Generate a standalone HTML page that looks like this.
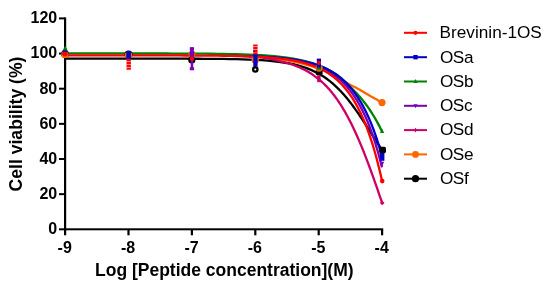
<!DOCTYPE html><html><head><meta charset="utf-8"><title>Cell viability</title><style>
html,body{margin:0;padding:0;background:#fff}
body{width:550px;height:287px;position:relative;overflow:hidden;font-family:"Liberation Sans",Arial,sans-serif;color:#000}
.t{position:absolute;white-space:nowrap;line-height:1}
.yt{font-weight:bold;font-size:16px;text-align:right;width:50px;left:7.2px}
.xt{font-weight:bold;font-size:16px;text-align:center;width:40px}
.lg{font-size:17.2px;left:439.1px}
.xl{font-weight:bold;font-size:17.5px;left:95px;top:262px}
.yl{font-weight:bold;font-size:17.6px;left:16.5px;top:123.5px;transform:translate(-50%,-50%) rotate(-90deg)}
</style></head><body>
<svg width="550" height="287" viewBox="0 0 550 287" style="position:absolute;left:0;top:0">
<g fill="#000">
<rect x="64" y="17.4" width="2.2" height="212.9"/>
<rect x="64" y="228.3" width="319.2" height="2"/>
<rect x="59" y="228.30" width="6" height="2"/>
<rect x="59" y="193.15" width="6" height="2"/>
<rect x="59" y="158.00" width="6" height="2"/>
<rect x="59" y="122.85" width="6" height="2"/>
<rect x="59" y="87.70" width="6" height="2"/>
<rect x="59" y="52.55" width="6" height="2"/>
<rect x="59" y="17.40" width="6" height="2"/>
<rect x="64.00" y="229.3" width="2.2" height="6"/>
<rect x="127.40" y="229.3" width="2.2" height="6"/>
<rect x="190.80" y="229.3" width="2.2" height="6"/>
<rect x="254.20" y="229.3" width="2.2" height="6"/>
<rect x="317.60" y="229.3" width="2.2" height="6"/>
<rect x="381.00" y="229.3" width="2.2" height="6"/>
</g>
<g fill="none" stroke-width="2.3" stroke-linejoin="round" stroke-linecap="butt">
<path d="M65.00 58.65 L71.34 58.65 L77.68 58.65 L84.02 58.65 L90.36 58.65 L96.70 58.65 L103.04 58.65 L109.38 58.65 L115.72 58.65 L122.06 58.65 L128.40 58.65 L134.74 58.65 L141.08 58.66 L147.42 58.66 L153.76 58.66 L160.10 58.67 L166.44 58.68 L172.78 58.69 L179.12 58.70 L185.46 58.71 L191.80 58.73 L198.14 58.76 L204.48 58.79 L210.82 58.84 L217.16 58.90 L223.50 58.97 L229.84 59.07 L236.18 59.19 L242.52 59.35 L248.86 59.57 L255.20 59.84 L261.54 60.19 L267.88 60.65 L274.22 61.24 L280.56 62.01 L286.90 62.99 L293.24 64.24 L299.58 65.84 L305.92 67.87 L312.26 70.42 L318.60 73.61 L319.66 74.21 L320.71 74.83 L321.77 75.48 L322.83 76.14 L323.88 76.83 L324.94 77.54 L326.00 78.28 L327.05 79.04 L328.11 79.83 L329.17 80.64 L330.22 81.47 L331.28 82.33 L332.34 83.22 L333.39 84.14 L334.45 85.08 L335.51 86.05 L336.56 87.04 L337.62 88.07 L338.68 89.12 L339.73 90.20 L340.79 91.31 L341.85 92.44 L342.90 93.61 L343.96 94.80 L345.02 96.02 L346.07 97.27 L347.13 98.54 L348.19 99.84 L349.24 101.17 L350.30 102.52 L351.36 103.90 L352.41 105.30 L353.47 106.73 L354.53 108.18 L355.58 109.65 L356.64 111.14 L357.70 112.66 L358.75 114.19 L359.81 115.74 L360.87 117.31 L361.92 118.89 L362.98 120.49 L364.04 122.10 L365.09 123.72 L366.15 125.35 L367.21 127.00 L368.26 128.65 L369.32 130.30 L370.38 131.96 L371.43 133.62 L372.49 135.28 L373.55 136.94 L374.60 138.60 L375.66 140.26 L376.72 141.91 L377.77 143.55 L378.83 145.19 L379.89 146.81 L380.94 148.42 L382.00 150.02" stroke="#000000"/>
<path d="M242.52 56.19 L248.86 56.42 L255.20 56.78 L261.54 57.27 L267.88 57.90 L274.22 58.65 L280.56 59.49 L286.90 60.43 L293.24 61.56 L299.58 62.93 L305.92 64.54 L312.26 66.44 L318.60 68.55 L319.66 68.90 L320.71 69.26 L321.77 69.62 L322.83 69.98 L323.88 70.36 L324.94 70.74 L326.00 71.15 L327.05 71.58 L328.11 72.04 L329.17 72.53 L330.22 73.05 L331.28 73.59 L332.34 74.15 L333.39 74.73 L334.45 75.31 L335.51 75.90 L336.56 76.49 L337.62 77.09 L338.68 77.69 L339.73 78.29 L340.79 78.91 L341.85 79.56 L342.90 80.22 L343.96 80.91 L345.02 81.61 L346.07 82.32 L347.13 83.01 L348.19 83.67 L349.24 84.30 L350.30 84.88 L351.36 85.42 L352.41 85.94 L353.47 86.45 L354.53 86.97 L355.58 87.51 L356.64 88.06 L357.70 88.65 L358.75 89.24 L359.81 89.85 L360.87 90.47 L361.92 91.10 L362.98 91.72 L364.04 92.35 L365.09 92.97 L366.15 93.60 L367.21 94.21 L368.26 94.83 L369.32 95.44 L370.38 96.05 L371.43 96.66 L372.49 97.26 L373.55 97.85 L374.60 98.44 L375.66 99.02 L376.72 99.60 L377.77 100.17 L378.83 100.74 L379.89 101.30 L380.94 101.85 L382.00 102.39" stroke="#ff6600"/>
<path d="M248.86 56.39 L255.20 56.74 L261.54 57.39 L267.88 58.39 L274.22 59.75 L280.56 61.35 L286.90 62.99 L293.24 64.97 L299.58 67.44 L305.92 70.52 L312.26 74.34 L318.60 79.05 L319.66 79.93 L320.71 80.84 L321.77 81.79 L322.83 82.76 L323.88 83.77 L324.94 84.81 L326.00 85.88 L327.05 86.99 L328.11 88.14 L329.17 89.32 L330.22 90.54 L331.28 91.80 L332.34 93.09 L333.39 94.43 L334.45 95.81 L335.51 97.22 L336.56 98.68 L337.62 100.19 L338.68 101.73 L339.73 103.32 L340.79 104.96 L341.85 106.63 L342.90 108.36 L343.96 110.13 L345.02 111.95 L346.07 113.81 L347.13 115.72 L348.19 117.68 L349.24 119.68 L350.30 121.74 L351.36 123.84 L352.41 125.99 L353.47 128.18 L354.53 130.43 L355.58 132.72 L356.64 135.06 L357.70 137.44 L358.75 139.87 L359.81 142.34 L360.87 144.86 L361.92 147.42 L362.98 150.03 L364.04 152.68 L365.09 155.36 L366.15 158.09 L367.21 160.86 L368.26 163.66 L369.32 166.49 L370.38 169.36 L371.43 172.26 L372.49 175.19 L373.55 178.15 L374.60 181.14 L375.66 184.15 L376.72 187.18 L377.77 190.23 L378.83 193.30 L379.89 196.38 L380.94 199.48 L382.00 202.58" stroke="#cc0066"/>
<path d="M286.90 58.94 L293.24 59.85 L299.58 61.01 L305.92 62.46 L312.26 64.29 L318.60 66.59 L319.66 67.03 L320.71 67.48 L321.77 67.96 L322.83 68.45 L323.88 68.96 L324.94 69.49 L326.00 70.04 L327.05 70.61 L328.11 71.21 L329.17 71.83 L330.22 72.47 L331.28 73.14 L332.34 73.83 L333.39 74.55 L334.45 75.30 L335.51 76.08 L336.56 76.89 L337.62 77.73 L338.68 78.61 L339.73 79.51 L340.79 80.46 L341.85 81.44 L342.90 82.46 L343.96 83.52 L345.02 84.62 L346.07 85.76 L347.13 86.95 L348.19 88.18 L349.24 89.47 L350.30 90.80 L351.36 92.18 L352.41 93.62 L353.47 95.12 L354.53 96.67 L355.58 98.29 L356.64 99.96 L357.70 101.71 L358.75 103.52 L359.81 105.40 L360.87 107.36 L361.92 109.39 L362.98 111.50 L364.04 113.70 L365.09 115.98 L366.15 118.35 L367.21 120.81 L368.26 123.37 L369.32 126.03 L370.38 128.80 L371.43 131.67 L372.49 134.65 L373.55 137.75 L374.60 140.97 L375.66 144.32 L376.72 147.80 L377.77 151.42 L378.83 155.17 L379.89 159.08 L380.94 163.13 L382.00 167.35" stroke="#7a00b6"/>
<path d="M65.00 53.46 L71.34 53.46 L77.68 53.46 L84.02 53.47 L90.36 53.47 L96.70 53.47 L103.04 53.47 L109.38 53.47 L115.72 53.47 L122.06 53.47 L128.40 53.48 L134.74 53.48 L141.08 53.49 L147.42 53.49 L153.76 53.50 L160.10 53.51 L166.44 53.52 L172.78 53.54 L179.12 53.56 L185.46 53.58 L191.80 53.61 L198.14 53.65 L204.48 53.70 L210.82 53.76 L217.16 53.83 L223.50 53.93 L229.84 54.05 L236.18 54.20 L242.52 54.38 L248.86 54.61 L255.20 54.90 L261.54 55.26 L267.88 55.69 L274.22 56.24 L280.56 56.90 L286.90 57.71 L293.24 58.70 L299.58 59.90 L305.92 61.37 L312.26 63.15 L318.60 65.33 L319.66 65.74 L320.71 66.17 L321.77 66.61 L322.83 67.06 L323.88 67.53 L324.94 68.02 L326.00 68.53 L327.05 69.06 L328.11 69.60 L329.17 70.17 L330.22 70.75 L331.28 71.36 L332.34 71.99 L333.39 72.65 L334.45 73.33 L335.51 74.03 L336.56 74.77 L337.62 75.53 L338.68 76.32 L339.73 77.14 L340.79 77.99 L341.85 78.88 L342.90 79.80 L343.96 80.75 L345.02 81.75 L346.07 82.78 L347.13 83.85 L348.19 84.96 L349.24 86.07 L350.30 87.08 L351.36 88.08 L352.41 89.10 L353.47 90.13 L354.53 91.19 L355.58 92.26 L356.64 93.37 L357.70 94.50 L358.75 95.66 L359.81 96.85 L360.87 98.07 L361.92 99.32 L362.98 100.61 L364.04 101.94 L365.09 103.31 L366.15 104.71 L367.21 106.16 L368.26 107.64 L369.32 109.17 L370.38 110.74 L371.43 112.36 L372.49 114.03 L373.55 115.75 L374.60 117.51 L375.66 119.33 L376.72 121.20 L377.77 123.13 L378.83 125.11 L379.89 127.15 L380.94 129.25 L382.00 131.41" stroke="#008000"/>
<path d="M229.84 55.80 L236.18 55.90 L242.52 56.03 L248.86 56.20 L255.20 56.41 L261.54 56.67 L267.88 57.00 L274.22 57.41 L280.56 57.93 L286.90 58.59 L293.24 59.41 L299.58 60.46 L305.92 61.77 L312.26 63.42 L318.60 65.49 L319.66 65.89 L320.71 66.30 L321.77 66.72 L322.83 67.17 L323.88 67.63 L324.94 68.11 L326.00 68.60 L327.05 69.12 L328.11 69.66 L329.17 70.22 L330.22 70.80 L331.28 71.40 L332.34 72.02 L333.39 72.67 L334.45 73.35 L335.51 74.05 L336.56 74.78 L337.62 75.54 L338.68 76.33 L339.73 77.15 L340.79 78.00 L341.85 78.88 L342.90 79.80 L343.96 80.76 L345.02 81.75 L346.07 82.78 L347.13 83.85 L348.19 84.97 L349.24 86.12 L350.30 87.32 L351.36 88.57 L352.41 89.87 L353.47 91.22 L354.53 92.62 L355.58 94.08 L356.64 95.59 L357.70 97.16 L358.75 98.80 L359.81 100.50 L360.87 102.26 L361.92 104.09 L362.98 106.00 L364.04 107.98 L365.09 110.04 L366.15 112.17 L367.21 114.40 L368.26 116.70 L369.32 119.10 L370.38 121.59 L371.43 124.18 L372.49 126.88 L373.55 129.67 L374.60 132.58 L375.66 135.60 L376.72 138.74 L377.77 142.00 L378.83 145.38 L379.89 148.90 L380.94 152.56 L382.00 156.36" stroke="#0000cc"/>
<path d="M65.00 55.40 L71.34 55.40 L77.68 55.40 L84.02 55.40 L90.36 55.40 L96.70 55.40 L103.04 55.40 L109.38 55.40 L115.72 55.40 L122.06 55.41 L128.40 55.41 L134.74 55.41 L141.08 55.42 L147.42 55.42 L153.76 55.43 L160.10 55.44 L166.44 55.45 L172.78 55.46 L179.12 55.47 L185.46 55.49 L191.80 55.52 L198.14 55.55 L204.48 55.59 L210.82 55.65 L217.16 55.71 L223.50 55.79 L229.84 55.89 L236.18 56.02 L242.52 56.19 L248.86 56.39 L255.20 56.65 L261.54 56.97 L267.88 57.38 L274.22 57.90 L280.56 58.55 L286.90 59.36 L293.24 60.39 L299.58 61.68 L305.92 63.31 L312.26 65.36 L318.60 67.94 L319.66 68.43 L320.71 68.94 L321.77 69.47 L322.83 70.02 L323.88 70.59 L324.94 71.18 L326.00 71.80 L327.05 72.44 L328.11 73.11 L329.17 73.80 L330.22 74.52 L331.28 75.27 L332.34 76.05 L333.39 76.86 L334.45 77.69 L335.51 78.57 L336.56 79.47 L337.62 80.42 L338.68 81.39 L339.73 82.41 L340.79 83.47 L341.85 84.57 L342.90 85.71 L343.96 86.89 L345.02 88.13 L346.07 89.41 L347.13 90.74 L348.19 92.12 L349.24 93.56 L350.30 95.05 L351.36 96.60 L352.41 98.21 L353.47 99.89 L354.53 101.63 L355.58 103.44 L356.64 105.32 L357.70 107.27 L358.75 109.30 L359.81 111.41 L360.87 113.60 L361.92 115.88 L362.98 118.24 L364.04 120.70 L365.09 123.26 L366.15 125.91 L367.21 128.67 L368.26 131.54 L369.32 134.52 L370.38 137.61 L371.43 140.83 L372.49 144.17 L373.55 147.64 L374.60 151.25 L375.66 155.00 L376.72 158.90 L377.77 162.95 L378.83 167.16 L379.89 171.53 L380.94 176.07 L382.00 180.79" stroke="#ff0000"/>
</g>
<g id="markers">
<!-- x=-9 -->
<circle cx="65" cy="53.9" r="3.9" fill="#000"/>
<circle cx="65" cy="54.4" r="3.6" fill="#ff6600"/>
<rect x="62.7" y="50.3" width="4.6" height="4.6" fill="#0000cc"/>
<path d="M63.5 49.8 L66.9 49.8 L65.2 46.6 Z" fill="#008000" stroke="#008000" stroke-width="1" stroke-linejoin="round"/>
<circle cx="64.9" cy="54.1" r="2.5" fill="#ff0000"/>
<!-- x=-8 -->
<circle cx="128.5" cy="54.4" r="4" fill="#000"/>
<circle cx="128.5" cy="55.3" r="3.7" fill="#ff6600"/>
<rect x="126.3" y="51" width="4.6" height="7.9" fill="#0000cc"/>
<line x1="128.7" y1="59.3" x2="128.7" y2="70.3" stroke="#ff0000" stroke-width="4.4" stroke-dasharray="2.2 0.55"/>
<!-- x=-7 -->
<circle cx="192" cy="53.9" r="3.5" fill="#ff6600"/>
<circle cx="191.8" cy="60" r="3.6" fill="#000"/>
<rect x="189.7" y="51.8" width="4.5" height="4.5" fill="#0000cc"/>
<rect x="190.7" y="47.5" width="2.5" height="22.6" fill="#7a00b6"/>
<rect x="190.1" y="47.5" width="3.6" height="9.5" fill="#7a00b6"/>
<rect x="189.8" y="47.4" width="4.3" height="2.6" fill="#7a00b6"/>
<rect x="189.8" y="67.3" width="4.3" height="2.9" fill="#7a00b6"/>
<circle cx="192" cy="58.8" r="2.2" fill="#ff0000"/>
<!-- x=-6 -->
<circle cx="255.2" cy="60" r="3.7" fill="#ff6600"/>
<line x1="255.4" y1="44.4" x2="255.4" y2="54.6" stroke="#ff0000" stroke-width="4.4" stroke-dasharray="2.2 0.45"/>
<rect x="253.4" y="50.4" width="1.2" height="1.6" fill="#0000cc"/>
<rect x="253.3" y="54.4" width="4.3" height="12" fill="#0000cc"/>
<circle cx="255.3" cy="69.4" r="2.15" fill="#fff" stroke="#000" stroke-width="2.3"/>
<!-- x=-5 -->
<rect x="315.8" y="68.6" width="6.8" height="6.8" rx="2.2" fill="#000"/>
<circle cx="319.1" cy="68.1" r="3.6" fill="#ff6600"/>
<rect x="316.8" y="58.6" width="4.2" height="10.5" fill="#0000cc"/>
<rect x="316.8" y="67.5" width="4.2" height="2.1" fill="#008000"/>
<circle cx="318.9" cy="62.8" r="2.1" fill="#ff0000"/>
<rect x="317.2" y="75.4" width="3.4" height="6.8" fill="#cc0066"/>
<!-- x=-4 -->
<circle cx="382" cy="102.6" r="3.6" fill="#ff6600"/>
<path d="M379.9 133 L384.3 133 L382.1 128.8 Z" fill="#008000"/>
<rect x="379.9" y="153" width="4.5" height="7.8" fill="#0000cc"/>
<path d="M379.8 161.8 L384.2 161.8 L382 166.8 Z" fill="#7a00b6"/>
<rect x="379.3" y="146.8" width="6.7" height="6.4" rx="1.6" fill="#000"/>
<circle cx="382.2" cy="181.1" r="2.3" fill="#ff0000"/>
<path d="M379.9 202.9 L382.2 200.5 L384.5 202.9 L382.2 205.3 Z" fill="#cc0066"/>

</g>
<rect x="404" y="31.8" width="23" height="2" fill="#ff0000"/>
<circle cx="415.5" cy="32.8" r="2.1" fill="#ff0000"/>
<rect x="404" y="56.2" width="23" height="2" fill="#0000cc"/>
<rect x="413.3" y="55.0" width="4.4" height="4.4" fill="#0000cc"/>
<rect x="404" y="80.5" width="23" height="2" fill="#008000"/>
<path d="M413.5 83.1 L417.5 83.1 L415.5 79.1Z" fill="#008000"/>
<rect x="404" y="104.8" width="23" height="2" fill="#7a00b6"/>
<path d="M413.5 104.2 L417.5 104.2 L415.5 108.2Z" fill="#7a00b6"/>
<rect x="404" y="129.1" width="23" height="2" fill="#cc0066"/>
<path d="M414.0 130.1 L415.5 127.8 L417.0 130.1 L415.5 132.4Z" fill="#cc0066"/>
<rect x="404" y="153.4" width="23" height="2" fill="#ff6600"/>
<circle cx="415.5" cy="154.4" r="3.4" fill="#ff6600"/>
<rect x="404" y="177.7" width="23" height="2" fill="#000000"/>
<circle cx="415.5" cy="178.7" r="3.6" fill="#000000"/>
</svg>
<div class="t yt" style="top:221.1px">0</div>
<div class="t yt" style="top:186.0px">20</div>
<div class="t yt" style="top:150.8px">40</div>
<div class="t yt" style="top:115.7px">60</div>
<div class="t yt" style="top:80.5px">80</div>
<div class="t yt" style="top:45.4px">100</div>
<div class="t yt" style="top:10.2px">120</div>
<div class="t xt" style="left:44.7px;top:239.6px">-9</div>
<div class="t xt" style="left:108.1px;top:239.6px">-8</div>
<div class="t xt" style="left:171.5px;top:239.6px">-7</div>
<div class="t xt" style="left:234.9px;top:239.6px">-6</div>
<div class="t xt" style="left:298.3px;top:239.6px">-5</div>
<div class="t xt" style="left:361.7px;top:239.6px">-4</div>
<div class="t lg" style="top:24.1px;left:439.6px">Brevinin-1OS</div>
<div class="t lg" style="top:48.5px;left:439.9px;letter-spacing:-0.4px">OSa</div>
<div class="t lg" style="top:72.8px;left:439.9px;letter-spacing:-0.4px">OSb</div>
<div class="t lg" style="top:97.1px;left:439.9px;letter-spacing:-0.4px">OSc</div>
<div class="t lg" style="top:121.4px;left:439.9px;letter-spacing:-0.4px">OSd</div>
<div class="t lg" style="top:145.7px;left:439.9px;letter-spacing:-0.4px">OSe</div>
<div class="t lg" style="top:170.0px;left:439.9px;letter-spacing:-0.4px">OSf</div>
<div class="t xl">Log [Peptide concentration](M)</div>
<div class="t yl">Cell viability (%)</div>
</body></html>
